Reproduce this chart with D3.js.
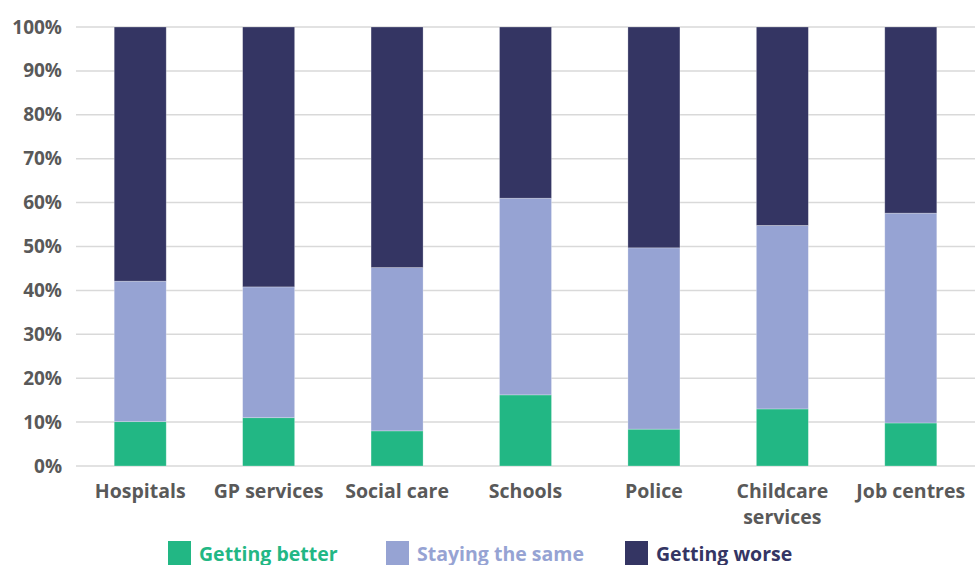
<!DOCTYPE html>
<html>
<head>
<meta charset="utf-8">
<script src="https://cdn.jsdelivr.net/npm/d3@7"></script>
<style>
  body { margin: 0; background: #fff; }
  svg text { font-family: "Open Sans", sans-serif; font-weight: 700; }
</style>
</head>
<body>
<svg id="chart" width="977" height="565"></svg>
<script>
var categories = ["Hospitals", "GP services", "Social care", "Schools", "Police", "Childcare services", "Job centres"];
var gettingBetter = [10.1, 11.0, 8.0, 16.2, 8.4, 13.0, 9.8];
var stayingSame = [32.0, 29.8, 37.2, 44.8, 41.3, 41.8, 47.8];
var gettingWorse = [57.9, 59.2, 54.8, 39.0, 50.3, 45.2, 42.4];
var seriesNames = ["Getting better", "Staying the same", "Getting worse"];
var colors = ["#22b784", "#96a3d3", "#343563"];
var yTicks = [0, 10, 20, 30, 40, 50, 60, 70, 80, 90, 100];

var svg = d3.select("#chart");
var plotLeft = 76, plotRight = 975, plotTop = 27, plotBottom = 466;

var rows = categories.map(function (c, i) {
  return { cat: c, better: gettingBetter[i], same: stayingSame[i], worse: gettingWorse[i] };
});
var stack = d3.stack().keys(["better", "same", "worse"]);
var layers = stack(rows);

var x = d3.scaleBand().domain(categories).range([plotLeft, plotRight]).paddingInner(0.595).paddingOuter(0.2975);
var y = d3.scaleLinear().domain([0, 100]).range([plotBottom, plotTop]);

// gridlines
svg.append("g")
  .selectAll("line").data(yTicks).enter().append("line")
  .attr("x1", plotLeft).attr("x2", plotRight)
  .attr("y1", function (d) { return y(d); }).attr("y2", function (d) { return y(d); })
  .attr("stroke", "#d9d9d9").attr("stroke-width", 1.5);

// y labels
svg.append("g")
  .selectAll("text").data(yTicks).enter().append("text")
  .attr("x", 62).attr("y", function (d) { return y(d) + 6.5; })
  .attr("text-anchor", "end").attr("font-size", 19).attr("fill", "#595959")
  .text(function (d) { return d + "%"; });

// bars
svg.append("g").selectAll("g").data(layers).enter().append("g")
  .attr("fill", function (d, i) { return colors[i]; })
  .selectAll("rect").data(function (d) { return d; }).enter().append("rect")
  .attr("x", function (d) { return x(d.data.cat); })
  .attr("width", x.bandwidth())
  .attr("y", function (d) { return y(d[1]); })
  .attr("height", function (d) { return y(d[0]) - y(d[1]); })
  .attr("stroke", "rgba(255,255,255,0.35)").attr("stroke-width", 0.75);

// x labels
var xl = svg.append("g").selectAll("text").data(categories).enter().append("text")
  .attr("text-anchor", "middle").attr("font-size", 19.5).attr("fill", "#595959")
  .attr("y", 498);
xl.each(function (d) {
  var t = d3.select(this);
  var cx = x(d) + x.bandwidth() / 2;
  var lines = d === "Childcare services" ? ["Childcare", "services"] : [d];
  lines.forEach(function (l, i) {
    t.append("tspan").attr("x", cx).attr("dy", i === 0 ? 0 : 26).text(l);
  });
});

// legend
var legendX = [168, 386, 625];
var lg = svg.append("g").selectAll("g").data(seriesNames).enter().append("g")
  .attr("transform", function (d, i) { return "translate(" + legendX[i] + ",541)"; });
lg.append("rect").attr("width", 23).attr("height", 24)
  .attr("fill", function (d, i) { return colors[i]; });
lg.append("text").attr("x", 31).attr("y", 20).attr("font-size", 19.5)
  .attr("fill", function (d, i) { return colors[i]; })
  .text(function (d) { return d; });
</script>
</body>
</html>
